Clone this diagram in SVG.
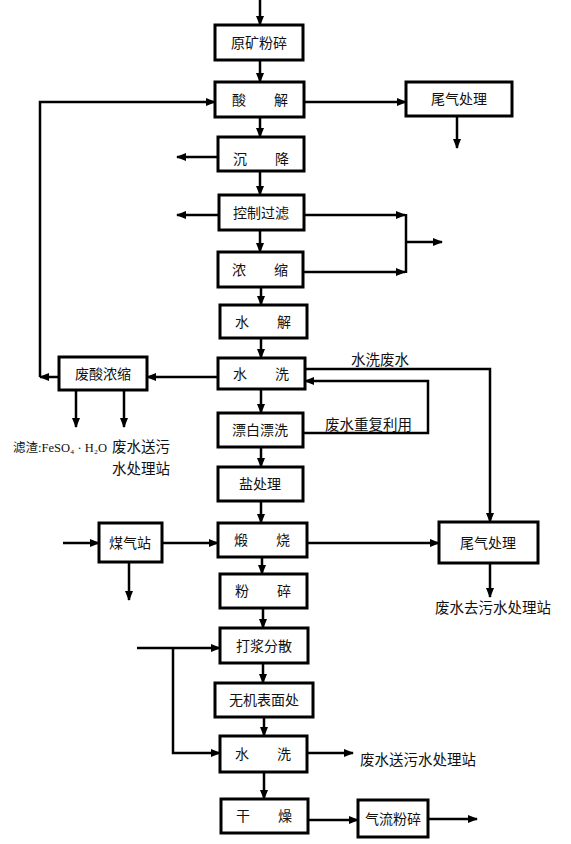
<svg xmlns="http://www.w3.org/2000/svg" width="571" height="844" viewBox="0 0 571 844">
<style>
.box{fill:#fff;stroke:#000;stroke-width:3}
.t{font-family:"Noto Sans CJK SC","Noto Sans",sans-serif;font-size:14px;fill:#111;text-anchor:middle}
.l{font-family:"Noto Sans CJK SC","Noto Sans",sans-serif;font-size:14.5px;fill:#111}
.f{font-family:"Liberation Serif","Noto Sans CJK SC",serif;font-size:12.5px;fill:#111}
.c{fill:none;stroke:#000;stroke-width:2.5}
</style>
<defs>
<marker id="a" markerUnits="userSpaceOnUse" markerWidth="10" markerHeight="8" refX="9" refY="4" orient="auto">
<path d="M0,0 L10,4 L0,8 Z" fill="#000"/>
</marker>
</defs>
<g id="connectors">
<path class="c" marker-end="url(#a)" d="M260,0 V25"/>
<path class="c" marker-end="url(#a)" d="M260,60 V82"/>
<path class="c" marker-end="url(#a)" d="M260,117 V137"/>
<path class="c" marker-end="url(#a)" d="M260,171 V195"/>
<path class="c" marker-end="url(#a)" d="M260,230 V252"/>
<path class="c" marker-end="url(#a)" d="M261,287 V305"/>
<path class="c" marker-end="url(#a)" d="M261,338 V358"/>
<path class="c" marker-end="url(#a)" d="M261,389 V413"/>
<path class="c" marker-end="url(#a)" d="M261,447 V467"/>
<path class="c" marker-end="url(#a)" d="M261,501 V523"/>
<path class="c" marker-end="url(#a)" d="M262,557 V574"/>
<path class="c" marker-end="url(#a)" d="M263,608 V628"/>
<path class="c" marker-end="url(#a)" d="M263,663 V683"/>
<path class="c" marker-end="url(#a)" d="M264,717 V736"/>
<path class="c" marker-end="url(#a)" d="M264,772 V799"/>
<path class="c" marker-end="url(#a)" d="M304,102 H406"/>
<path class="c" marker-end="url(#a)" d="M457,116 V148"/>
<path class="c" marker-end="url(#a)" d="M218,157 H177"/>
<path class="c" marker-end="url(#a)" d="M219,215 H177"/>
<path class="c" marker-end="url(#a)" d="M304,215 H405"/>
<path class="c" marker-end="url(#a)" d="M303,272 H405"/>
<path class="c" d="M406,214 V273"/>
<path class="c" marker-end="url(#a)" d="M406,242 H442"/>
<path class="c" marker-end="url(#a)" d="M218,377 H147"/>
<path class="c" marker-end="url(#a)" d="M59,377 H40"/>
<path class="c" marker-end="url(#a)" d="M40,377 V102 H215"/>
<path class="c" marker-end="url(#a)" d="M76,390 V427"/>
<path class="c" marker-end="url(#a)" d="M124,390 V427"/>
<path class="c" marker-end="url(#a)" d="M305,369 H490 V522"/>
<path class="c" marker-end="url(#a)" d="M303,433 H428 V381 H305"/>
<path class="c" marker-end="url(#a)" d="M63,543 H99"/>
<path class="c" marker-end="url(#a)" d="M162,543 H218"/>
<path class="c" marker-end="url(#a)" d="M129,562 V600"/>
<path class="c" marker-end="url(#a)" d="M307,543 H439"/>
<path class="c" marker-end="url(#a)" d="M490,563 V597"/>
<path class="c" marker-end="url(#a)" d="M137,648 H220"/>
<path class="c" marker-end="url(#a)" d="M173,648 V753 H220"/>
<path class="c" marker-end="url(#a)" d="M307,753 H353"/>
<path class="c" marker-end="url(#a)" d="M308,820 H358"/>
<path class="c" marker-end="url(#a)" d="M428,819 H477"/>
</g>
<g id="n1"><rect class="box" x="215" y="25" width="88" height="35"/><text class="t" x="259" y="47.5">原矿粉碎</text></g>
<g id="n2"><rect class="box" x="215" y="82" width="89" height="35"/><text class="t" x="260" y="104.5">酸　　解</text></g>
<g id="n3"><rect class="box" x="218" y="137" width="86" height="34"/><text class="t" x="261" y="164">沉　　降</text></g>
<g id="n4"><rect class="box" x="219" y="195" width="85" height="35"/><text class="t" x="261" y="217.5">控制过滤</text></g>
<g id="n5"><rect class="box" x="218" y="252" width="85" height="35"/><text class="t" x="260" y="274.5">浓　　缩</text></g>
<g id="n6"><rect class="box" x="220" y="305" width="87" height="33"/><text class="t" x="263" y="326.5">水　　解</text></g>
<g id="n7"><rect class="box" x="218" y="358" width="87" height="31"/><text class="t" x="261" y="378.5">水　　洗</text></g>
<g id="n8"><rect class="box" x="218" y="413" width="85" height="34"/><text class="t" x="260" y="435">漂白漂洗</text></g>
<g id="n9"><rect class="box" x="218" y="467" width="85" height="34"/><text class="t" x="260" y="489">盐处理</text></g>
<g id="n10"><rect class="box" x="218" y="523" width="89" height="34"/><text class="t" x="262" y="545">煅　　烧</text></g>
<g id="n11"><rect class="box" x="220" y="574" width="87" height="34"/><text class="t" x="263" y="596">粉　　碎</text></g>
<g id="n12"><rect class="box" x="220" y="628" width="88" height="35"/><text class="t" x="264" y="650.5">打浆分散</text></g>
<g id="n13"><rect class="box" x="215" y="683" width="98" height="34"/><text class="t" x="264" y="705">无机表面处</text></g>
<g id="n14"><rect class="box" x="220" y="736" width="87" height="36"/><text class="t" x="263" y="759">水　　洗</text></g>
<g id="n15"><rect class="box" x="221" y="799" width="87" height="34"/><text class="t" x="264" y="821">干　　燥</text></g>
<g id="n16"><rect class="box" x="358" y="800" width="70" height="37"/><text class="t" x="393" y="823.5">气流粉碎</text></g>
<g id="n17"><rect class="box" x="406" y="82" width="106" height="34"/><text class="t" x="459" y="104">尾气处理</text></g>
<g id="n18"><rect class="box" x="439" y="522" width="99" height="41"/><text class="t" x="488" y="547.5">尾气处理</text></g>
<g id="n19"><rect class="box" x="59" y="357" width="88" height="33"/><text class="t" x="103" y="378.5">废酸浓缩</text></g>
<g id="n20"><rect class="box" x="99" y="523" width="63" height="39"/><text class="t" x="130" y="547.5">煤气站</text></g>
<g id="labels">
<text class="l" x="380" y="365" text-anchor="middle" font-size="13">水洗废水</text>
<text class="l" x="325" y="430">废水重复利用</text>
<text class="f" x="13" y="452">滤渣:FeSO₄ · H₂O</text>
<text class="l" x="112" y="452">废水送污</text>
<text class="l" x="112" y="474">水处理站</text>
<text class="l" x="435" y="613">废水去污水处理站</text>
<text class="l" x="360" y="765">废水送污水处理站</text>
</g>
</svg>
